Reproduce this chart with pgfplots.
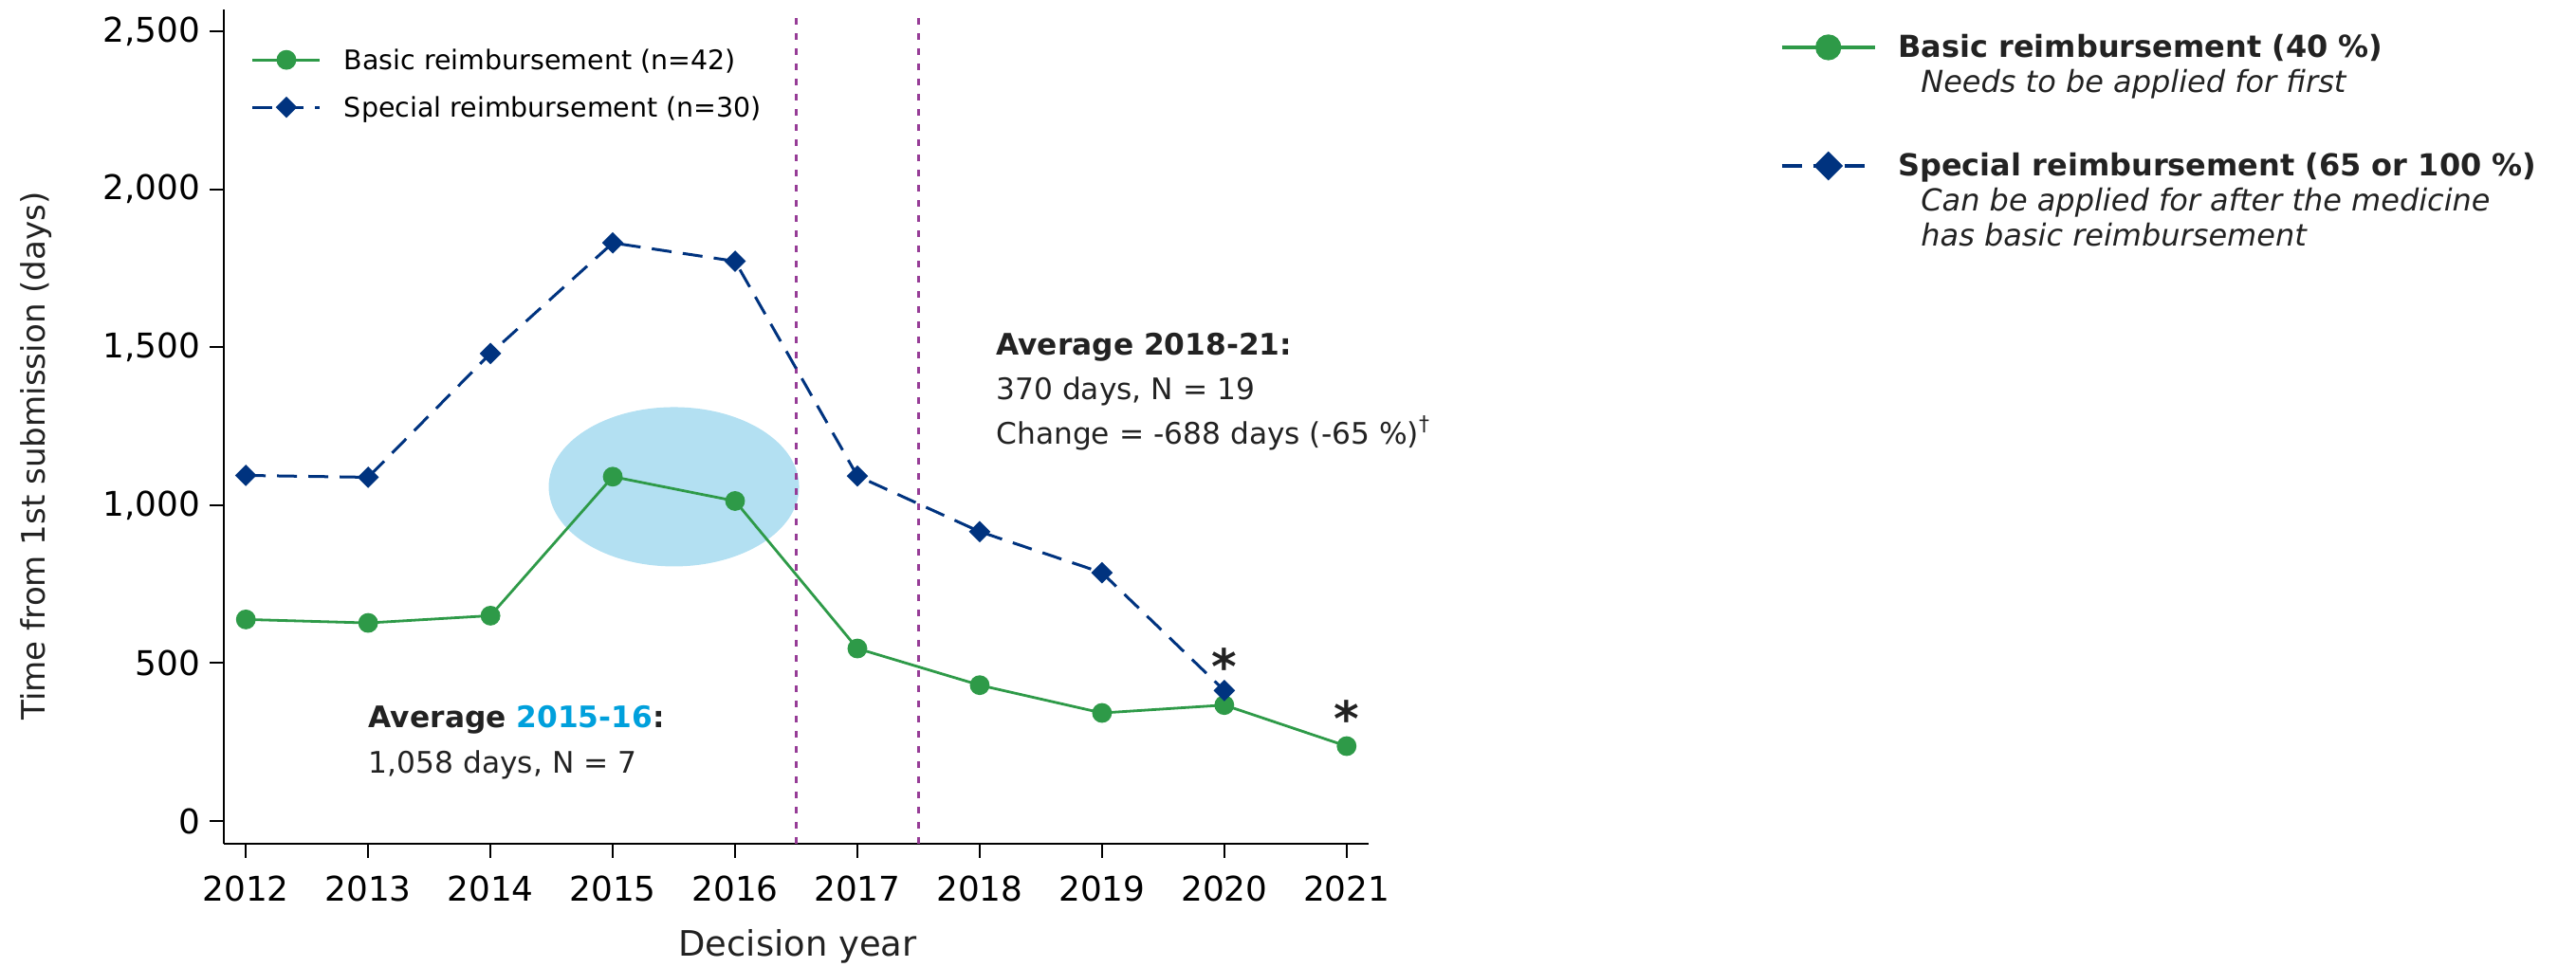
\documentclass[border=0pt]{standalone}
\usepackage{fontspec}
\setmainfont{DejaVu Sans}
\usepackage{pgfplots}
\pgfplotsset{compat=1.18}
\definecolor{bgreen}{HTML}{2E9A48}
\definecolor{snavy}{HTML}{00337F}
\definecolor{vpurple}{HTML}{963C96}
\definecolor{ellblue}{HTML}{B3E0F2}
\definecolor{avgblue}{HTML}{00A0DC}
\definecolor{txt}{HTML}{222222}
\pgfplotsset{
  basic/.style={color=bgreen, solid, line width=0.28mm, mark=*, mark size=0.9mm, mark options={solid}},
  special/.style={color=snavy, line width=0.3mm, dash pattern=on 2.1mm off 1.2mm, mark=square*, mark size=0.65mm, mark options={solid, rotate=45}},
}
\begin{document}
\begin{tikzpicture}
\useasboundingbox (-23.6mm,-13mm) rectangle (248mm,89mm);
\begin{axis}[
  at={(0,0)}, anchor=south west, scale only axis,
  width=120.7mm, height=88mm,
  xmin=2011.82, xmax=2021.18, ymin=-72, ymax=2569,
  axis x line*=bottom, axis y line*=left,
  axis line style={line width=0.2mm, black, -},
  tick align=outside, major tick length=1.5mm,
  tick style={line width=0.2mm, black},
  xtick={2012,2013,2014,2015,2016,2017,2018,2019,2020,2021},
  xticklabels={2012,2013,2014,2015,2016,2017,2018,2019,2020,2021},
  ytick={0,500,1000,1500,2000,2500},
  yticklabels={0,500,{1,000},{1,500},{2,000},{2,500}},
  ticklabel style={font=\fontsize{10.2}{12}\selectfont},
  xticklabel style={inner sep=0pt, yshift=-1.8mm},
  yticklabel style={inner sep=0pt, xshift=-0.9mm},
  clip=false,
  legend style={at={(0.024,0.968)}, anchor=north west, draw=none, fill=none,
    inner sep=0pt, outer sep=0pt, column sep=2.4mm, row sep=0pt,
    font=\fontsize{8.1}{10}\selectfont,
    nodes={inner sep=0pt, text height=3.53mm, text depth=1.47mm}},
  legend cell align=left,
  legend image code/.code={\draw[mark repeat=2,mark phase=2,#1] plot coordinates {(0mm,0mm) (3.55mm,0mm) (7.1mm,0mm)};},
]
\fill[ellblue] (axis cs:2015.5,1058) ellipse [x radius=13.2mm, y radius=8.4mm];
\addplot[vpurple, line width=0.25mm, dash pattern=on 0.7mm off 0.9mm, forget plot] coordinates {(2016.5,-72) (2016.5,2569)};
\addplot[vpurple, line width=0.25mm, dash pattern=on 0.7mm off 0.9mm, forget plot] coordinates {(2017.5,-72) (2017.5,2569)};
\addplot[basic] coordinates {
 (2012,638) (2013,627) (2014,650) (2015,1090) (2016,1013)
 (2017,546) (2018,430) (2019,342) (2020,367) (2021,237)};
\addlegendentry{Basic reimbursement (n=42)}
\addplot[special] coordinates {
 (2012,1094) (2013,1088) (2014,1480) (2015,1830) (2016,1772)
 (2017,1092) (2018,916) (2019,786) (2020,413)};
\addlegendentry{Special reimbursement (n=30)}
\node[anchor=base west, inner sep=0pt, text=txt, font=\fontsize{8.9}{10}\selectfont\bfseries] at (axis cs:2013.0,297) {Average \textcolor{avgblue}{2015-16}:};
\node[anchor=base west, inner sep=0pt, text=txt, font=\fontsize{8.9}{10}\selectfont] at (axis cs:2013.0,153) {1,058 days, N = 7};
\node[anchor=base west, inner sep=0pt, text=txt, font=\fontsize{8.9}{10}\selectfont\bfseries] at (axis cs:2018.13,1474) {Average 2018-21:};
\node[anchor=base west, inner sep=0pt, text=txt, font=\fontsize{8.9}{10}\selectfont] at (axis cs:2018.13,1333) {370 days, N = 19};
\node[anchor=base west, inner sep=0pt, text=txt, font=\fontsize{8.9}{10}\selectfont] at (axis cs:2018.13,1194) {Change = -688 days (-65 \%)\textsuperscript{†}};
\node[anchor=base, inner sep=0pt, text=txt, font=\fontsize{14.5}{16}\selectfont\bfseries] at (axis cs:2020,434) {*};
\node[anchor=base, inner sep=0pt, text=txt, font=\fontsize{14.5}{16}\selectfont\bfseries] at (axis cs:2021,269) {*};
\end{axis}
\begin{axis}[
  at={(0,0)}, anchor=south west, scale only axis,
  width=120.7mm, height=88mm,
  xmin=0, xmax=1, ymin=0, ymax=1, hide axis,
  legend style={at={(1.3596,0.9756)}, anchor=north west, draw=none, fill=none,
    inner sep=0pt, outer sep=0pt, column sep=2.3mm, row sep=0pt,
    font=\fontsize{9.1}{11}\selectfont, text=txt,
    nodes={inner sep=0pt, text height=2.9mm, text depth=0.8mm}},
  legend cell align=left,
  legend image code/.code={\draw[mark repeat=2,mark phase=2,#1] plot coordinates {(0mm,0mm) (4.9mm,0mm) (9.8mm,0mm)};},
]
\addlegendimage{basic, mark size=1.2mm, line width=0.33mm}
\addlegendentry{\textbf{Basic reimbursement (40 \%)}}
\addlegendimage{empty legend}
\addlegendentry{\hspace{2.4mm}\textit{Needs to be applied for first}}
\addlegendimage{empty legend}
\addlegendentry[text height=3.4mm, text depth=1.7mm]{}
\addlegendimage{special, mark size=0.92mm, line width=0.33mm}
\addlegendentry{\textbf{Special reimbursement (65 or 100 \%)}}
\addlegendimage{empty legend}
\addlegendentry{\hspace{2.4mm}\textit{Can be applied for after the medicine}}
\addlegendimage{empty legend}
\addlegendentry{\hspace{2.4mm}\textit{has basic reimbursement}}
\end{axis}
\node[rotate=90, inner sep=0pt, text=txt, font=\fontsize{9.7}{11}\selectfont] at (-19.8mm,40.9mm) {Time from 1st submission (days)};
\node[anchor=base, inner sep=0pt, text=txt, font=\fontsize{10.5}{12}\selectfont] at (60.5mm,-11.9mm) {Decision year};
\end{tikzpicture}
\end{document}
